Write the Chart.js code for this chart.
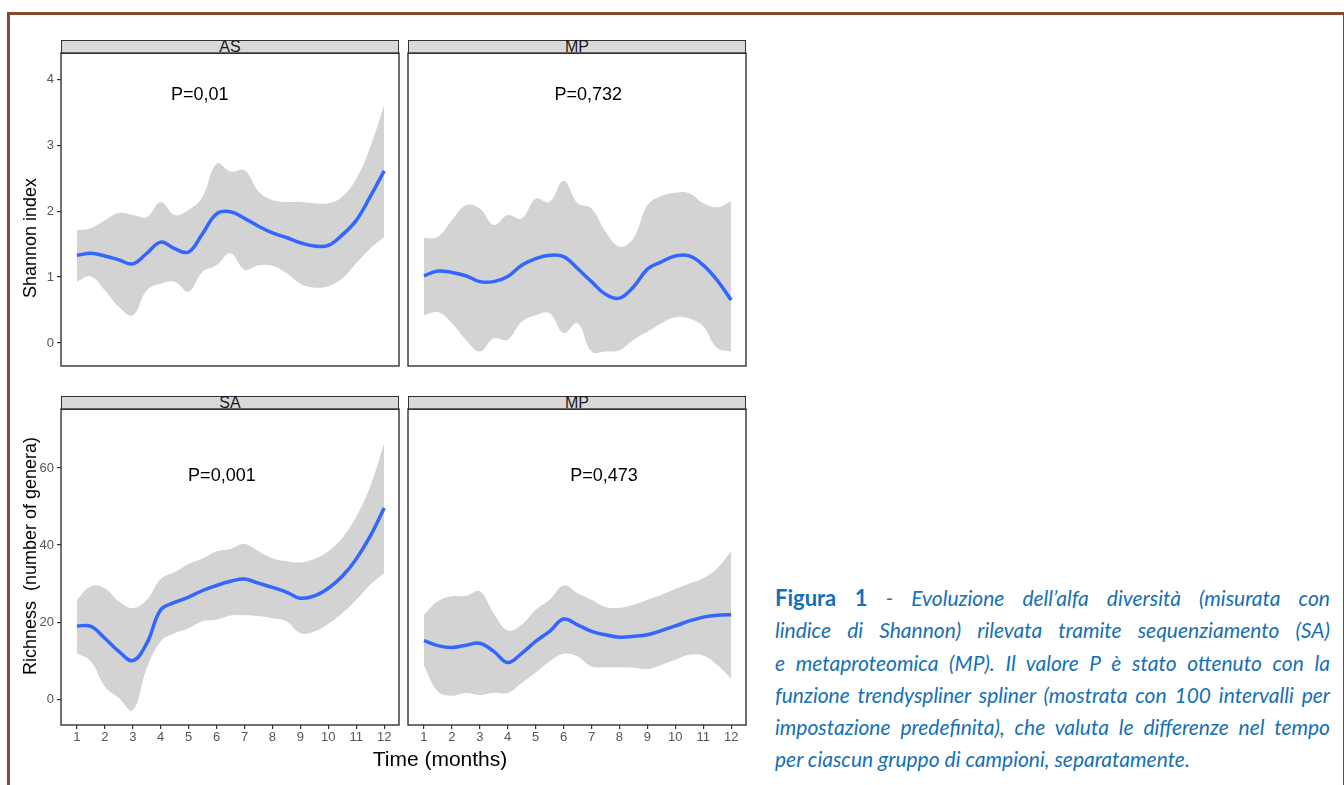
<!DOCTYPE html>
<html>
<head>
<meta charset="UTF-8" />
<title>Evoluzione dell'alfa diversità</title>
<style>
  body {
    margin: 0;
    width: 1344px;
    height: 785px;
    overflow: hidden;
    position: relative;
    background: #fff;
    font-family: "Liberation Sans", Arial, sans-serif;
  }
  .frame {
    position: absolute;
    left: 7px;
    top: 12px;
    width: 1333px;
    height: 800px;
    border-top: 3px solid #864a31;
    border-left: 3px solid #864a31;
    border-right: 1px solid #6e4a3a;
  }
  .strip {
    position: absolute;
    height: 12px;
    background: #d9d9d9;
    border: 1px solid #333;
    text-align: center;
    font-size: 16px;
    line-height: 12px;
    color: #1a1a1a;
    overflow: visible;
  }
  canvas { position: absolute; }
  .ytitle {
    position: absolute;
    transform: translate(-50%, -50%) rotate(-90deg);
    font-size: 18px;
    white-space: nowrap;
    color: #000;
  }
  .xtitle {
    position: absolute;
    transform: translate(-50%, -50%);
    font-size: 21px;
    white-space: nowrap;
    color: #000;
  }
  .caption {
    position: absolute;
    left: 775px;
    top: 582px;
    width: 555px;
    font-family: Lato, "Open Sans", sans-serif;
    font-size: 21px;
    color: #1670b5;
  }
  .caption div {
    height: 32.3px;
    line-height: 32px;
    white-space: nowrap;
    text-align: justify;
    text-align-last: justify;
    font-style: italic;
  }
  .caption div.last { text-align-last: left; }
  .caption b { font-style: normal; font-weight: 700; font-size: 22px; }
</style>
</head>
<body>
<div class="frame"></div>

<div class="strip" style="left:61px; top:40px; width:336px;">AS</div>
<div class="strip" style="left:408px; top:40px; width:336px;">MP</div>
<div class="strip" style="left:61px; top:396px; width:336px;">SA</div>
<div class="strip" style="left:408px; top:396px; width:336px;">MP</div>

<canvas id="c1"></canvas>
<canvas id="c2"></canvas>
<canvas id="c3"></canvas>
<canvas id="c4"></canvas>

<div class="ytitle" style="left:30px; top:238px;">Shannon index</div>
<div class="ytitle" style="left:30px; top:556px;">Richness&nbsp; (number of genera)</div>
<div class="xtitle" style="left:440px; top:759px;">Time (months)</div>

<div class="caption" id="caption">
  <div><b>Figura 1</b> - Evoluzione dell’alfa diversità (misurata con</div>
  <div>lindice di Shannon) rilevata tramite sequenziamento (SA)</div>
  <div>e metaproteomica (MP). Il valore P è stato ottenuto con la</div>
  <div>funzione trendyspliner spliner (mostrata con 100 intervalli per</div>
  <div>impostazione predefinita), che valuta le differenze nel tempo</div>
  <div class="last">per ciascun gruppo di campioni, separatamente.</div>
</div>

<script src="https://cdn.jsdelivr.net/npm/chart.js"></script>
<script>
  // time grid (months) at which the smoothed curves were read
  const months = [1, 1.5, 2, 2.5, 3, 3.5, 4, 4.5, 5, 5.5, 6, 6.5, 7, 7.5, 8, 8.5, 9, 9.5, 10, 10.5, 11, 11.5, 12];
  const monthTicks = [1, 2, 3, 4, 5, 6, 7, 8, 9, 10, 11, 12];

  // Shannon index - AS
  const shannonAS     = [1.33, 1.36, 1.32, 1.26, 1.20, 1.36, 1.53, 1.43, 1.38, 1.66, 1.96, 1.99, 1.89, 1.77, 1.67, 1.60, 1.52, 1.47, 1.48, 1.64, 1.86, 2.22, 2.61];
  const shannonASLow  = [0.93, 1.01, 0.80, 0.55, 0.42, 0.80, 0.90, 0.93, 0.78, 1.08, 1.18, 1.36, 1.11, 1.18, 1.17, 1.06, 0.90, 0.84, 0.86, 0.98, 1.21, 1.43, 1.61];
  const shannonASHigh = [1.71, 1.74, 1.86, 1.97, 1.94, 1.91, 2.14, 1.94, 2.02, 2.22, 2.72, 2.60, 2.62, 2.30, 2.17, 2.14, 2.14, 2.12, 2.12, 2.22, 2.49, 2.97, 3.61];

  // Shannon index - MP
  const shannonMP     = [1.02, 1.09, 1.07, 1.02, 0.93, 0.93, 1.01, 1.18, 1.28, 1.33, 1.31, 1.13, 0.93, 0.74, 0.68, 0.85, 1.12, 1.23, 1.32, 1.32, 1.18, 0.95, 0.65];
  const shannonMPLow  = [0.42, 0.47, 0.30, 0.05, -0.13, 0.07, 0.05, 0.32, 0.42, 0.45, 0.15, 0.30, -0.13, -0.13, -0.11, 0.05, 0.17, 0.30, 0.39, 0.37, 0.25, -0.08, -0.13];
  const shannonMPHigh = [1.59, 1.61, 1.86, 2.09, 2.04, 1.79, 1.94, 1.89, 2.19, 2.14, 2.46, 2.12, 2.04, 1.69, 1.46, 1.59, 2.09, 2.23, 2.28, 2.27, 2.12, 2.06, 2.15];

  // Richness - SA
  const richSA     = [19.0, 18.9, 15.8, 12.4, 10.0, 14.5, 23.2, 25.1, 26.5, 28.2, 29.5, 30.6, 31.2, 30.1, 29.0, 27.8, 26.2, 26.8, 28.8, 31.9, 36.4, 42.3, 49.6];
  const richSALow  = [11.9, 9.8, 3.3, 0.3, -2.9, 8.1, 15.0, 17.1, 18.4, 20.2, 20.6, 21.7, 21.8, 21.6, 21.0, 20.2, 17.1, 17.6, 19.6, 22.3, 25.8, 29.7, 32.7];
  const richSAHigh = [25.8, 29.3, 28.8, 25.4, 23.6, 25.8, 31.2, 33.0, 35.1, 36.5, 38.4, 39.0, 40.3, 38.4, 36.6, 35.8, 35.5, 36.4, 38.4, 41.8, 47.4, 55.2, 66.5];

  // Richness - MP
  const richMP     = [15.2, 13.9, 13.4, 14.0, 14.5, 12.4, 9.5, 11.9, 15.0, 17.6, 20.8, 19.3, 17.6, 16.7, 16.1, 16.3, 16.7, 17.8, 19.0, 20.3, 21.3, 21.8, 21.9];
  const richMPLow  = [8.7, 2.0, 0.9, 1.6, 1.1, 1.7, 1.6, 4.2, 6.9, 9.8, 11.8, 11.1, 8.5, 8.3, 8.3, 8.2, 7.8, 8.9, 10.2, 11.5, 11.3, 8.9, 5.3];
  const richMPHigh = [21.9, 25.4, 26.7, 26.8, 28.0, 22.3, 17.8, 19.3, 23.2, 25.8, 29.5, 27.5, 25.8, 23.9, 23.7, 24.5, 25.8, 27.1, 28.6, 30.0, 31.4, 34.0, 38.4];

  // P-value annotations (text and position in data units)
  const pTexts = ["P=0,01", "P=0,732", "P=0,001", "P=0,473"];
  const pX = [5.4, 6.88, 6.19, 7.45];
  const pY = [3.76, 3.76, 58, 58];

  const pts = (ys) => ys.map((y, i) => ({ x: months[i], y: y }));

  // frame around the plot area + P label
  const panelDeco = {
    id: "panelDeco",
    afterDatasetsDraw(chart, args, opts) {
      const { ctx, chartArea: a, scales } = chart;
      ctx.save();
      ctx.fillStyle = "#000";
      ctx.font = '18px "Liberation Sans", Arial, sans-serif';
      ctx.textAlign = "center";
      ctx.textBaseline = "middle";
      ctx.fillText(opts.text, scales.x.getPixelForValue(opts.x), scales.y.getPixelForValue(opts.y));
      ctx.strokeStyle = "#333";
      ctx.lineWidth = 1.4;
      ctx.strokeRect(a.left, a.top, a.right - a.left, a.bottom - a.top);
      ctx.restore();
    }
  };

  const tickFont = { family: '"Liberation Sans", Arial, sans-serif', size: 13 };

  function panel(id, box, showX, showY, yRange, yStep, mean, low, high, k) {
    const yw = showY ? 61 : 0;
    const xh = showX ? 25 : 0;
    const pad = 3;
    const cv = document.getElementById(id);
    const left = box[0] - (showY ? yw : pad);
    const top = box[1] - pad;
    cv.width = box[2] - left + pad;
    cv.height = box[3] - top + (showX ? xh : pad);
    cv.style.left = left + "px";
    cv.style.top = top + "px";

    return new Chart(cv, {
      type: "line",
      data: {
        datasets: [
          { data: pts(mean), borderColor: "#3366ff", borderWidth: 3.5, pointRadius: 0, fill: false },
          { data: pts(low), borderColor: "rgba(0,0,0,0)", borderWidth: 0, pointRadius: 0, fill: false },
          { data: pts(high), borderColor: "rgba(0,0,0,0)", borderWidth: 0, pointRadius: 0, fill: "-1", backgroundColor: "#d3d3d3" }
        ]
      },
      options: {
        responsive: false,
        animation: false,
        events: [],
        layout: { padding: { left: showY ? 0 : pad, top: pad, right: pad, bottom: showX ? 0 : pad } },
        elements: { line: { tension: 0.4 } },
        plugins: {
          legend: { display: false },
          tooltip: { enabled: false },
          panelDeco: { text: pTexts[k], x: pX[k], y: pY[k] }
        },
        scales: {
          x: {
            type: "linear",
            display: showX,
            min: 0.43,
            max: 12.53,
            afterBuildTicks: (s) => { s.ticks = monthTicks.map((v) => ({ value: v })); },
            ticks: { color: "#555", font: tickFont, padding: 1, maxRotation: 0, autoSkip: false },
            grid: { drawOnChartArea: false, drawTicks: true, tickLength: 4, color: "#333", lineWidth: 1.2 },
            border: { display: false },
            afterFit: (s) => { s.height = xh; s.paddingLeft = 0; s.paddingRight = 0; }
          },
          y: {
            type: "linear",
            display: showY,
            min: yRange[0],
            max: yRange[1],
            ticks: { stepSize: yStep, includeBounds: false, color: "#555", font: tickFont, padding: 3 },
            grid: { drawOnChartArea: false, drawTicks: true, tickLength: 4, color: "#333", lineWidth: 1.2 },
            border: { display: false },
            afterFit: (s) => { s.width = yw; s.paddingTop = 0; s.paddingBottom = 0; }
          }
        }
      },
      plugins: [panelDeco]
    });
  }

  const shannonRange = [-0.35, 4.4];
  const richRange = [-6.7, 75.3];

  panel("c1", [61, 53, 399, 366], false, true, shannonRange, 1, shannonAS, shannonASLow, shannonASHigh, 0);
  panel("c2", [408, 53, 746, 366], false, false, shannonRange, 1, shannonMP, shannonMPLow, shannonMPHigh, 1);
  panel("c3", [61, 409, 399, 725], true, true, richRange, 20, richSA, richSALow, richSAHigh, 2);
  panel("c4", [408, 409, 746, 725], true, false, richRange, 20, richMP, richMPLow, richMPHigh, 3);

  // tighten letter spacing on any caption line that does not fit its box
  Array.from(document.getElementById("caption").children).forEach((d) => {
    let ls = 0;
    while (d.scrollWidth > d.clientWidth + 1 && ls > -2) {
      ls -= 0.05;
      d.style.letterSpacing = ls + "px";
    }
  });
</script>
</body>
</html>
